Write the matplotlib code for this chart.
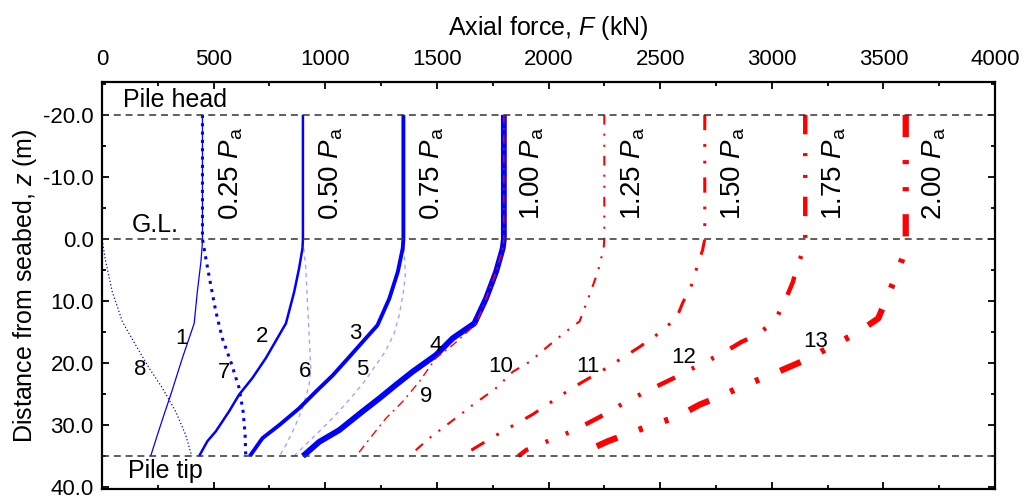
import matplotlib
matplotlib.use("Agg")
import matplotlib.pyplot as plt

plt.rcParams["font.family"] = ["Liberation Sans", "DejaVu Sans"]
plt.rcParams["mathtext.fontset"] = "custom"
plt.rcParams["mathtext.rm"] = "Liberation Sans"
plt.rcParams["mathtext.it"] = "Liberation Sans:italic"
plt.rcParams["lines.scale_dashes"] = False

# depths below seabed (m) and axial force (kN)
z_head = -20.0
z_gl = 0.0
z_tip = 35.0

z1 = [0, 1, 3.7, 8.5, 13.6, 19.2, 25.1, 28.3, 31.6, 35]
f1 = [450, 449, 443, 427, 413, 360, 308, 278, 248, 218]
z2 = [0, 1.5, 4.7, 8.5, 13.6, 19.2, 22.4, 25.1, 27.8, 31.0, 32.6, 35]
f2 = [900, 898, 883, 861, 824, 734, 674, 614, 569, 510, 472, 435]
z3 = [0, 1.5, 5.3, 9.6, 13.9, 16.6, 19.0, 22.0, 24.6, 27.3, 30.0, 32.1, 35]
f3 = [1350, 1347, 1325, 1287, 1234, 1167, 1108, 1033, 958, 883, 794, 719, 662]
z4 = [0, 1.5, 5.3, 9.6, 13.6, 16.0, 18.7, 21.4, 23.5, 25.7, 27.8, 30.8, 32.7, 35]
f4 = [1800, 1795, 1765, 1720, 1668, 1571, 1496, 1391, 1317, 1242, 1167, 1063, 973, 900]
z5 = [0, 5.8, 8.5, 12.2, 15.2, 18.1, 20.0, 23.0, 25.9, 28.3, 30.5, 32.6, 35]
f5 = [1350, 1359, 1350, 1332, 1309, 1270, 1233, 1175, 1108, 1048, 988, 928, 860]
z6 = [0, 2.0, 4.7, 10.1, 15.5, 20.8, 23.5, 27.3, 30.5, 33.2, 35]
f6 = [900, 905, 913, 920, 928, 935, 928, 898, 861, 824, 795]
z7 = [0, 3.1, 7.4, 11.7, 16.0, 19.8, 24.0, 27.8, 31.6, 35]
f7 = [450, 465, 487, 510, 539, 577, 614, 632, 641, 644]
z8 = [0, 3.7, 8.5, 13.3, 17.1, 20.8, 24.0, 27.8, 31.6, 35]
f8 = [0, 17, 46, 91, 151, 211, 270, 330, 375, 402]
z9 = [0, 1.5, 5.3, 9.6, 13.7, 17.1, 19.2, 23.0, 26.2, 28.9, 31.6, 35]
f9 = [1800, 1795, 1765, 1720, 1676, 1571, 1496, 1421, 1347, 1272, 1212, 1138]
z10 = [0, 1.5, 5.3, 9.0, 13.3, 14.9, 17.1, 19.8, 21.4, 24.2, 26.5, 29.0, 32.0, 35]
f10 = [2250, 2247, 2221, 2184, 2139, 2079, 2004, 1915, 1840, 1760, 1670, 1580, 1470, 1375]
z11 = [0, 1.8, 4.2, 7.4, 10.3, 12.7, 15.1, 17.4, 20.8, 24.0, 28.3, 31.6, 35]
f11 = [2700, 2690, 2668, 2641, 2601, 2574, 2498, 2408, 2260, 2107, 1928, 1767, 1610]
z12 = [0, 1.2, 4.7, 6.9, 10.1, 13.3, 15.5, 16.6, 18.4, 20.0, 22.2, 24.3, 26.2, 28.7, 30.8, 32.0, 34.0, 35]
f12 = [3150, 3148, 3111, 3095, 3058, 3013, 2931, 2864, 2781, 2692, 2574, 2453, 2350, 2229, 2117, 2036, 1901, 1865]
z13 = [0, 2.0, 5.8, 9.6, 12.8, 15.2, 17.1, 19.2, 20.6, 22.2, 23.8, 25.4, 26.7, 28.7, 30.0, 31.5, 32.6, 34.2, 35]
f13 = [3600, 3596, 3559, 3514, 3477, 3380, 3275, 3170, 3080, 2976, 2864, 2767, 2677, 2574, 2462, 2348, 2266, 2169, 2130]

load_names = ["0.25", "0.50", "0.75", "1.00", "1.25", "1.50", "1.75", "2.00"]
load_values = [450, 900, 1350, 1800, 2250, 2700, 3150, 3600]

curve_ids = ["1", "2", "3", "4", "5", "6", "7", "8", "9", "10", "11", "12", "13"]
curve_z = [z1, z2, z3, z4, z5, z6, z7, z8, z9, z10, z11, z12, z13]
curve_f = [f1, f2, f3, f4, f5, f6, f7, f8, f9, f10, f11, f12, f13]
label_f = [357, 719, 1134, 1496, 1164, 910, 547, 170, 1451, 1785, 2176, 2607, 3197]
label_z = [16.0, 15.7, 15.3, 17.1, 21.1, 21.4, 21.5, 21.1, 25.4, 20.6, 20.6, 19.1, 16.5]

blue = "#0000ff"
red = "#ff0000"
light = "#a4a4ff"
styles = {
    "1": dict(color=blue, lw=0.9),
    "2": dict(color=blue, lw=1.8),
    "3": dict(color=blue, lw=2.8),
    "4": dict(color=blue, lw=4.2),
    "5": dict(color=light, lw=1.0, dashes=(3, 3)),
    "6": dict(color=light, lw=1.0, dashes=(3, 3)),
    "7": dict(color=blue, lw=2.2, dashes=(2.2, 3.8)),
    "8": dict(color=blue, lw=0.9, dashes=(0.9, 1.6)),
    "9": dict(color=red, lw=1.0, dashes=(6, 3.5, 1.4, 3.5)),
    "10": dict(color=red, lw=1.5, dashes=(7, 6.5, 1.5, 6.5, 1.5, 6.5)),
    "11": dict(color=red, lw=2.2, dashes=(11, 10, 2, 10, 2, 10)),
    "12": dict(color=red, lw=3.2, dashes=(14, 13.5, 2.2, 13.5, 2.2, 13.5)),
    "13": dict(color=red, lw=4.5, dashes=(16, 16.5, 3, 16.5, 3, 16.5)),
}
draw_order = ["5", "6", "8", "7", "1", "2", "3", "4", "9", "10", "11", "12", "13"]

fig = plt.figure(figsize=(10.24, 4.97), dpi=100)
ax = fig.add_axes([0.0996, 0.0161, 0.8721, 0.8189])

for key in draw_order:
    i = curve_ids.index(key)
    zz = [z_head] + list(curve_z[i])
    ff = [curve_f[i][0]] + list(curve_f[i])
    ax.plot(ff, zz, solid_capstyle="butt", dash_capstyle="butt", **styles[key])

for zl in [z_head, z_gl, z_tip]:
    ax.axhline(zl, color="#333333", lw=1.1, dashes=(5, 3.5))

for name, val in zip(load_names, load_values):
    ax.text(val + 128, -3.1, name + r" $P_{\mathrm{a}}$", rotation=90,
            ha="center", va="bottom", fontsize=20)

for cid, fx, fz in zip(curve_ids, label_f, label_z):
    ax.text(fx, fz, cid, ha="center", va="center", fontsize=16)

ax.text(95, -22.4, "Pile head", ha="left", va="center", fontsize=18)
ax.text(135, -2.3, "G.L.", ha="left", va="center", fontsize=18)
ax.text(117, 37.4, "Pile tip", ha="left", va="center", fontsize=18)

ax.set_xlim(0, 4000)
ax.set_ylim(40.3, -25.3)
ax.set_xticks(range(0, 4001, 500))
ax.set_xticks(range(250, 4000, 500), minor=True)
ax.set_yticks(range(-20, 41, 10))
ax.set_yticks(range(-25, 41, 10), minor=True)
ax.set_yticklabels([f"{v:.1f}" for v in range(-20, 41, 10)])

ax.xaxis.set_label_position("top")
ax.tick_params(axis="x", which="both", top=True, bottom=True,
               labeltop=True, labelbottom=False, direction="in")
ax.tick_params(axis="y", which="both", left=True, right=True, direction="in")
ax.tick_params(which="major", length=5, width=1.3, labelsize=16)
ax.tick_params(which="minor", length=3, width=1.3)
ax.tick_params(axis="x", pad=9)
ax.tick_params(axis="y", pad=6)
for s in ax.spines.values():
    s.set_linewidth(1.6)

ax.set_xlabel(r"Axial force, $F$ (kN)", fontsize=18, labelpad=10)
ax.set_ylabel(r"Distance from seabed, $z$ (m)", fontsize=18, labelpad=3)

fig.savefig("out.png", dpi=100)
